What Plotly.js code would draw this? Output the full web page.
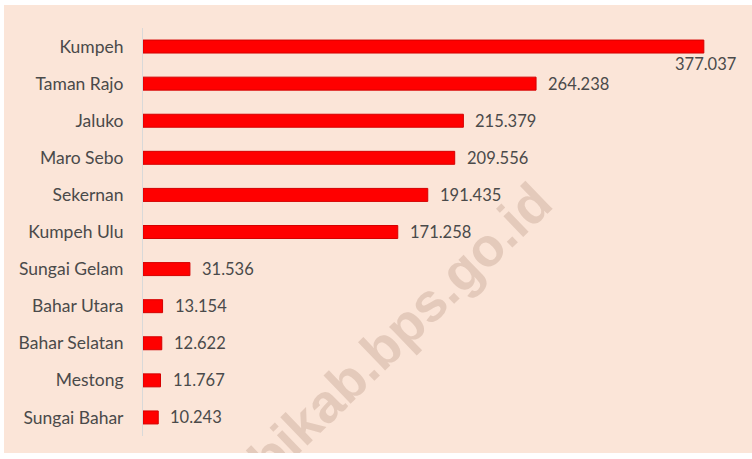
<!DOCTYPE html>
<html>
<head>
<meta charset="utf-8">
<script src="https://cdn.plot.ly/plotly-3.0.1.min.js"></script>
<style>
  html, body { margin: 0; padding: 0; background: #ffffff; }
  body { width: 752px; height: 459px; overflow: hidden; position: relative; }
  #frame { position: absolute; left: 4px; top: 5px; width: 748px; height: 448px; }
</style>
</head>
<body>
<div id="frame"></div>
<script>
const categories = ["Kumpeh", "Taman Rajo", "Jaluko", "Maro Sebo", "Sekernan", "Kumpeh Ulu",
                    "Sungai Gelam", "Bahar Utara", "Bahar Selatan", "Mestong", "Sungai Bahar"];
const values = [377.037, 264.238, 215.379, 209.556, 191.435, 171.258, 31.536, 13.154, 12.622, 11.767, 10.243];
const valueLabels = ["377.037", "264.238", "215.379", "209.556", "191.435", "171.258",
                     "31.536", "13.154", "12.622", "11.767", "10.243"];
const watermark = "muarojambikab.bps.go.id";

const textColor = "#4a4a4a";
const fontFamily = "Lato, 'Open Sans', sans-serif";

const trace = {
  type: "bar",
  orientation: "h",
  x: values,
  y: categories,
  marker: { color: "#ff0000", line: { color: "#d40000", width: 1 } },
  textposition: "none",
  hoverinfo: "skip"
};

const annotations = categories.map((c, i) => {
  const first = i === 0;
  return {
    x: values[i], y: c, xref: "x", yref: "y",
    text: valueLabels[i],
    showarrow: false,
    xanchor: first ? "center" : "left",
    yanchor: "middle",
    xshift: first ? 2 : 10,
    yshift: first ? -17 : 0,
    font: { family: fontFamily, size: 16.5, color: textColor }
  };
});

annotations.push({
  xref: "paper", yref: "paper",
  x: 0.71, y: 0.655,
  xanchor: "right", yanchor: "top",
  text: "<b>" + watermark + "</b>",
  textangle: -44,
  showarrow: false,
  font: { family: "'Liberation Sans', Arial, sans-serif", size: 54, color: "#e4cabb" }
});

const layout = {
  width: 748, height: 448,
  margin: { l: 139, r: 14, t: 23, b: 17, autoexpand: false },
  paper_bgcolor: "#fbe5d8",
  plot_bgcolor: "rgba(0,0,0,0)",
  showlegend: false,
  bargap: 0.65,
  font: { family: fontFamily, size: 16, color: textColor },
  xaxis: {
    range: [0, 400],
    visible: false,
    showgrid: false,
    zeroline: false,
    fixedrange: true
  },
  yaxis: {
    range: [10.5, -0.5],
    autorange: false,
    type: "category",
    automargin: false,
    showgrid: false,
    zeroline: false,
    showline: true,
    linecolor: "#d9d9d9",
    linewidth: 1,
    ticks: "",
    ticklabelstandoff: 15,
    tickfont: { family: fontFamily, size: 17.5, color: textColor },
    fixedrange: true
  },
  annotations: annotations
};

Plotly.newPlot("frame", [trace], layout, { displayModeBar: false, staticPlot: true });
</script>
</body>
</html>
